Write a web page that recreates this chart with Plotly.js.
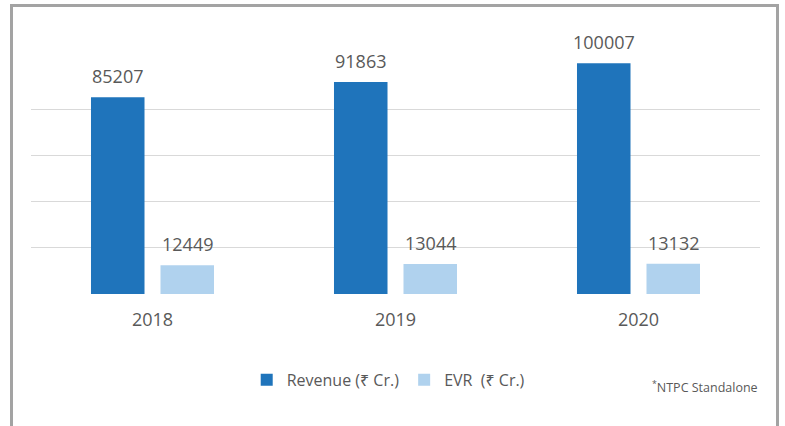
<!DOCTYPE html>
<html>
<head>
<meta charset="utf-8">
<script src="https://cdn.plot.ly/plotly-3.0.1.min.js"></script>
<style>
html,body{margin:0;padding:0;background:#fff;}
#wrap{position:relative;width:785px;height:426px;overflow:hidden;}
#chart{position:absolute;left:0;top:0;width:785px;height:426px;}
#frame{position:absolute;left:10px;top:4px;width:763px;height:500px;border:3px solid #a3a3a3;pointer-events:none;}
</style>
</head>
<body>
<div id="wrap"><div id="chart"></div><div id="frame"></div></div>
<script>
const years = ['2018', '2019', '2020'];
const revenue = [85207, 91863, 100007];
const evr = [12449, 13044, 13132];
const seriesNames = ['Revenue (₹ Cr.)', 'EVR\u00a0 (₹ Cr.)'];
const gridVals = [0, 20000, 40000, 60000, 80000];

const FONT = '"Open Sans", "Noto Sans", sans-serif';
const GRAY = '#595959';
const C1 = '#1f74bb';
const C2 = '#b0d2ee';

const xIdx = years.map((_, i) => i);

const traces = [
  {type:'bar', x:xIdx, y:revenue, name:seriesNames[0], marker:{color:C1}, hoverinfo:'skip'},
  {type:'bar', x:xIdx, y:evr, name:seriesNames[1], marker:{color:C2}, hoverinfo:'skip'}
];

const annotations = [];
[revenue, evr].forEach((vals, si) => {
  vals.forEach((v, i) => {
    annotations.push({
      x: xIdx[i], y: v, xref:'x', yref:'y',
      text: String(v), showarrow:false,
      xshift: si === 0 ? -35 : 35, yshift: 21, yanchor:'middle',
      font:{family:FONT, size:18, color:GRAY}
    });
  });
});
annotations.push({
  xref:'paper', yref:'paper', x:1, y:-0.335, xanchor:'right', yanchor:'middle',
  text:'<sup>*</sup>NTPC Standalone', showarrow:false,
  font:{family:FONT, size:12.5, color:GRAY}
});

const layout = {
  width:785, height:426,
  margin:{l:31, r:25, t:17, b:132},
  paper_bgcolor:'#fff', plot_bgcolor:'#fff',
  barmode:'group', bargap:0.428, bargroupgap:0.23,
  showlegend:true,
  legend:{orientation:'h', x:0.49, xanchor:'center', y:-0.31, yanchor:'middle',
    font:{family:FONT, size:16, color:GRAY}},
  xaxis:{type:'linear', range:[-0.5, 2.5], tickmode:'array', tickvals:xIdx, ticktext:years,
    showgrid:false, zeroline:false, showline:false,
    ticks:'outside', ticklen:9, tickcolor:'rgba(0,0,0,0)',
    tickfont:{family:FONT, size:18, color:GRAY}},
  yaxis:{type:'linear', range:[0,120000], tickmode:'array', tickvals:gridVals, showticklabels:false,
    showgrid:true, gridcolor:'#d9d9d9', gridwidth:1, zeroline:false, showline:false},
  annotations: annotations
};

Plotly.newPlot('chart', traces, layout, {staticPlot:true});
</script>
</body>
</html>
